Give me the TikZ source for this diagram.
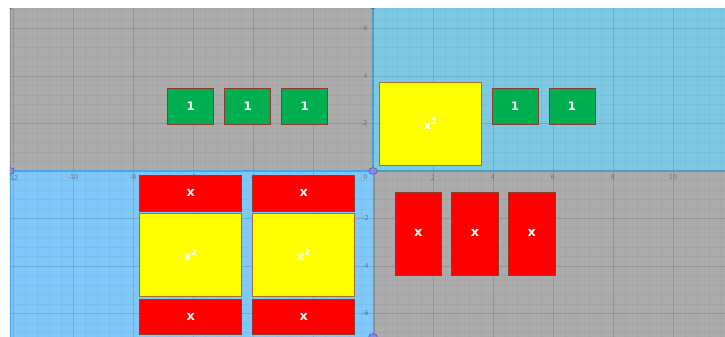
\documentclass[tikz,border=0pt]{standalone}
\usepackage{fontspec}
\setsansfont{DejaVu Sans}
\usetikzlibrary{positioning}
\definecolor{ATGray}{HTML}{ABABAB}
\definecolor{ATGrayLine}{HTML}{8C8C8C}
\definecolor{ATSky}{HTML}{7DC9E4}
\definecolor{ATSkyLine}{HTML}{4F9FC4}
\definecolor{ATBlue}{HTML}{80C7FA}
\definecolor{ATBlueLine}{HTML}{4AA5EA}
\definecolor{ATGreen}{HTML}{00B050}
\definecolor{ATRed}{HTML}{FF0000}
\definecolor{ATYellow}{HTML}{FFFF00}
\definecolor{ATEdge}{HTML}{8E3B2E}
\definecolor{ATYellowEdge}{HTML}{A0702A}
\definecolor{ATPoint}{HTML}{8A86E8}
\definecolor{ATPointLine}{HTML}{4B4AA8}

\begin{document}
\begin{tikzpicture}[
  x=0.9cm,y=0.7125cm,
  node distance=3.3mm and 3.3mm,
  tile/.style={draw=ATEdge,line width=0.6pt,inner sep=0pt,outer sep=0pt,text=white,font=\sffamily\bfseries\fontsize{11}{11}\selectfont},
  unit/.style={tile,fill=ATGreen,minimum width=13.8mm,minimum height=11mm,font=\sffamily\bfseries\fontsize{10}{10}\selectfont},
  xbar/.style={tile,fill=ATRed,minimum width=30.6mm,minimum height=10.7mm},
  xcol/.style={tile,fill=ATRed,minimum width=14mm,minimum height=24.9mm},
  xsq/.style={tile,fill=ATYellow,draw=ATYellowEdge,minimum width=30.6mm,minimum height=24.75mm,font=\sffamily\bfseries\fontsize{10}{10}\selectfont},
  tick/.style={font=\sffamily\fontsize{5.5}{5.5}\selectfont,text=black!55,inner sep=0pt},
  minor/.style={draw=black,opacity=0.035,line width=0.4pt},
  major/.style={draw=black,opacity=0.09,line width=0.7pt},
  pt/.style={draw=ATPointLine,fill=ATPoint,line width=0.4pt}
]
\useasboundingbox (-12.4333,-6.9895) rectangle (11.7333,7.2);
\fill[white] (-12.4333,-6.9895) rectangle (11.7333,7.2);
\begin{scope}
\clip (-12.1,-6.9895) rectangle (11.7333,6.863);
\fill[ATGray] (-12.1,0) rectangle (0,6.863);
\fill[ATSky] (0,0) rectangle (11.7333,6.863);
\fill[ATBlue] (-12.1,-6.9895) rectangle (0,0);
\fill[ATGray] (0,-6.9895) rectangle (11.7333,0);
\foreach \i in {-30,...,29} \draw[minor] (\i*0.4,-7) -- (\i*0.4,6.9);
\foreach \j in {-17,...,17} \draw[minor] (-12.2,\j*0.4) -- (11.8,\j*0.4);
\foreach \i in {-12,-10,...,10} \draw[major] (\i,-7) -- (\i,6.9);
\foreach \j in {-6,-4,...,6} \draw[major] (-12.2,\j) -- (11.8,\j);
\draw[ATGrayLine,line width=1.2pt] (-12.1,0) -- (-12.1,6.9);
\draw[ATGrayLine,line width=1.2pt] (0.05,-7) -- (0.05,0);
\draw[ATSkyLine,line width=1.6pt] (0,6.9) -- (0,0) -- (11.8,0);
\draw[ATBlueLine,line width=1.6pt] (-12.1,-7) -- (-12.1,0) -- (0,0);
\foreach \i in {-12,-10,-8,-6,-4,-2,2,4,6,8,10} \node[tick] (tx\i) at (\i,-0.28) {\i};
\node[tick] (tx0) at (-0.25,-0.28) {0};
\foreach \j in {-6,-4,-2,2,4,6} \node[tick] (ty\j) at (-0.25,\j) {\j};

\node[unit] (u1) at (-6.08,2.72) {1};
\node[unit,right=of u1] (u2) {1};
\node[unit,right=of u2] (u3) {1};
\node[xsq] (q1) at (1.917,1.985) {x\textsuperscript{2}};
\node[unit] (u4) at (4.733,2.72) {1};
\node[unit,right=of u4] (u5) {1};
\node[xbar] (b1) at (-6.077,-0.933) {x};
\node[xbar,right=of b1] (b2) {x};
\node[xsq,below=0.8mm of b1] (s1) {x\textsuperscript{2}};
\node[xsq,right=of s1] (s2) {x\textsuperscript{2}};
\node[xbar,below=0.9mm of s1] (b3) {x};
\node[xbar,right=of b3] (b4) {x};
\node[xcol] (c1) at (1.512,-2.63) {x};
\node[xcol,right=3mm of c1] (c2) {x};
\node[xcol,right=3mm of c2] (c3) {x};

\draw[pt] (-12.1,0) ellipse [x radius=1.3mm,y radius=1mm];
\draw[pt] (0,0) ellipse [x radius=1.3mm,y radius=1mm];
\draw[pt] (0,-6.9895) ellipse [x radius=1.3mm,y radius=1mm];
\draw[pt] (0,6.98) ellipse [x radius=1.3mm,y radius=1mm];
\draw[pt] (-12.1,6.98) ellipse [x radius=1.3mm,y radius=1mm];
\end{scope}
\end{tikzpicture}
\end{document}
